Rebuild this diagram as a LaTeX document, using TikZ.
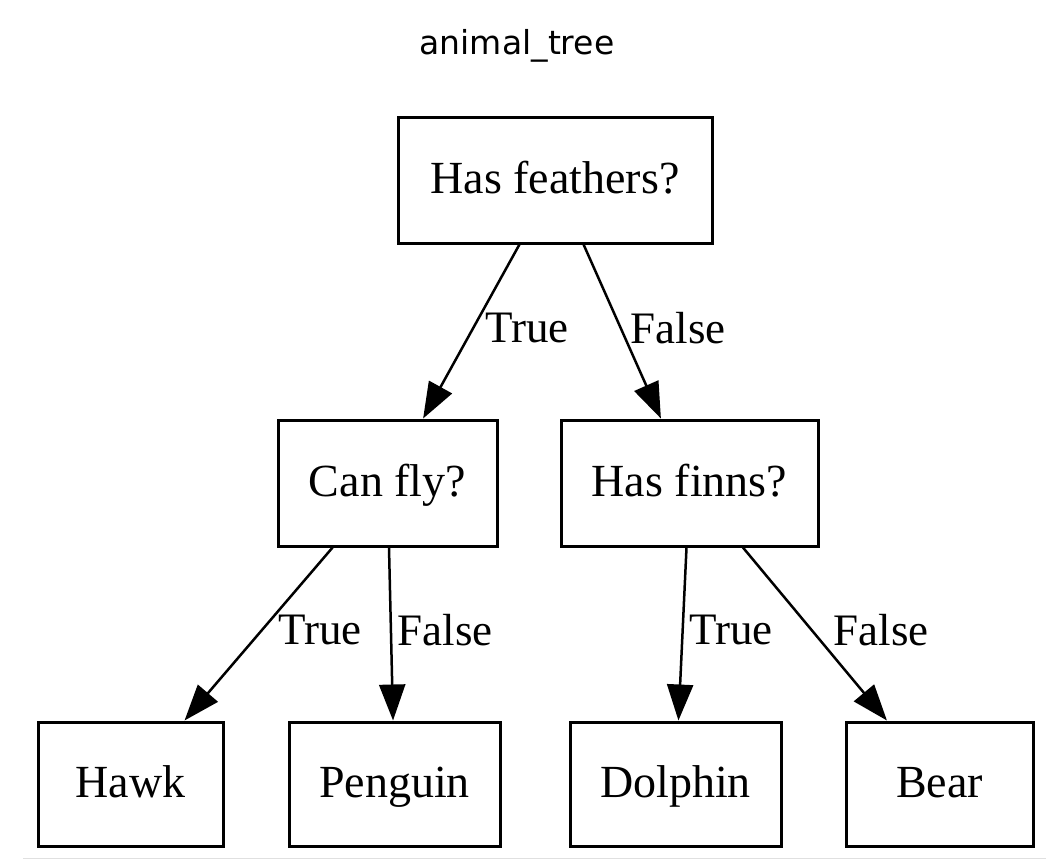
\documentclass[tikz,border=0pt]{standalone}
\usepackage{fontspec}
\setmainfont{Liberation Serif}
\newfontfamily\titlefont{DejaVu Sans}
\usetikzlibrary{arrows.meta}
\tikzset{
  box/.style={draw=black, line width=3pt, rectangle, minimum height=126pt, inner sep=0pt,
    font=\fontsize{46}{50}\selectfont, text height=32pt, text depth=6pt},
  leaf/.style={box, minimum height=124pt},
  edge/.style={line width=2.5pt, -{Triangle[length=36pt, width=26pt]}},
  elabel/.style={font=\fontsize{45}{50}\selectfont, inner sep=0pt}
}
\begin{document}
\begin{tikzpicture}[x=1pt, y=-1pt]
\useasboundingbox (0,0) rectangle (1046,860);
\fill[white] (0,0) rectangle (1046,860);
\node[font=\titlefont\fontsize{33}{36}\selectfont, anchor=base] (title) at (517,54) {animal\_tree};
\node[box, minimum width=314pt] (root) at (555,180) {Has feathers?};
\node[box, minimum width=219pt] (canfly) at (387.5,483) {Can fly?};
\node[box, minimum width=257pt] (finns) at (689.5,483) {Has finns?};
\node[leaf, minimum width=185pt] (hawk) at (130.5,784) {Hawk};
\node[leaf, minimum width=211pt] (penguin) at (394.5,784) {Penguin};
\node[leaf, minimum width=211pt] (dolphin) at (675.5,784) {Dolphin};
\node[leaf, minimum width=187pt] (bear) at (939.5,784) {Bear};
\draw[edge] (root) -- (canfly);
\draw[edge] (root) -- (finns);
\draw[edge] (canfly) -- (hawk);
\draw[edge] (canfly) -- (penguin);
\draw[edge] (finns) -- (dolphin);
\draw[edge] (finns) -- (bear);
\node[elabel] (l1) at (527,328) {True};
\node[elabel] (l2) at (678,328) {False};
\node[elabel] (l3) at (320,630) {True};
\node[elabel] (l4) at (445,630) {False};
\node[elabel] (l5) at (731,630) {True};
\node[elabel] (l6) at (881,630) {False};
\draw[black!12, line width=1.5pt] (23,858.5) -- (1046,858.5);
\end{tikzpicture}
\end{document}
